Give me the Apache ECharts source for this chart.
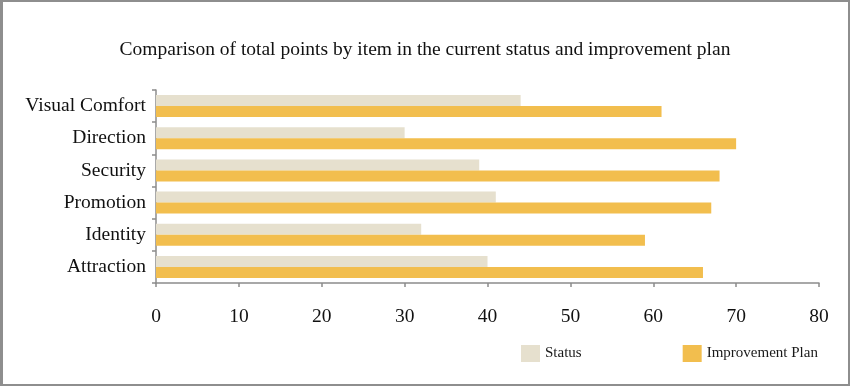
<!DOCTYPE html>
<html>
<head>
<meta charset="utf-8">
<script src="https://cdn.jsdelivr.net/npm/echarts@6/dist/echarts.min.js"></script>
<style>
html,body{margin:0;padding:0;background:#fff;}
#wrap{width:850px;height:386px;box-sizing:border-box;border:2px solid #8e8e8e;border-left-width:3px;position:relative;overflow:hidden;}
#chart{position:absolute;left:-3px;top:-2px;width:850px;height:386px;}
</style>
</head>
<body>
<div id="wrap"><div id="chart"></div></div>
<script>
const titleText = 'Comparison of total points by item in the current status and improvement plan';
const categories = ['Visual Comfort', 'Direction', 'Security', 'Promotion', 'Identity', 'Attraction'];
const statusValues = [44, 30, 39, 41, 32, 40];
const planValues = [61, 70, 68, 67, 59, 66];
const seriesNames = ['Status', 'Improvement Plan'];
const xTicks = [0, 10, 20, 30, 40, 50, 60, 70, 80];

const serif = '"Liberation Serif", "Times New Roman", serif';
const chart = echarts.init(document.getElementById('chart'), null, {renderer: 'canvas'});
chart.setOption({
  animation: false,
  backgroundColor: 'transparent',
  title: {
    text: titleText,
    left: 'center',
    top: 35,
    textStyle: {fontFamily: serif, fontSize: 19.5, fontWeight: 'normal', color: '#111'}
  },
  legend: {
    data: seriesNames,
    left: 521,
    top: 345,
    padding: 0,
    itemWidth: 19,
    itemHeight: 17,
    itemGap: 101,
    icon: 'rect',
    textStyle: {fontFamily: serif, fontSize: 15, color: '#1a1a1a'}
  },
  grid: {left: 156, right: 31, top: 90, bottom: 103, containLabel: false},
  xAxis: {
    type: 'value',
    min: xTicks[0],
    max: xTicks[xTicks.length - 1],
    interval: 10,
    axisLine: {show: true, lineStyle: {color: '#8c8c8c', width: 1.5}},
    axisTick: {show: true, length: 4, lineStyle: {color: '#8c8c8c', width: 1.5}},
    splitLine: {show: false},
    axisLabel: {fontFamily: serif, fontSize: 19.5, color: '#111', margin: 24}
  },
  yAxis: {
    type: 'category',
    data: categories,
    inverse: true,
    axisLine: {show: true, lineStyle: {color: '#8c8c8c', width: 1.5}},
    axisTick: {show: true, length: 4, lineStyle: {color: '#8c8c8c', width: 1.5}},
    axisLabel: {fontFamily: serif, fontSize: 19.5, color: '#111', margin: 10, padding: [6, 0, 0, 0]}
  },
  series: [
    {
      name: seriesNames[0],
      type: 'bar',
      data: statusValues,
      barWidth: 11,
      barGap: '0%',
      itemStyle: {color: '#E6E0CE'}
    },
    {
      name: seriesNames[1],
      type: 'bar',
      data: planValues,
      barWidth: 11,
      barGap: '0%',
      itemStyle: {color: '#F2BE4E'}
    }
  ]
});
</script>
</body>
</html>
